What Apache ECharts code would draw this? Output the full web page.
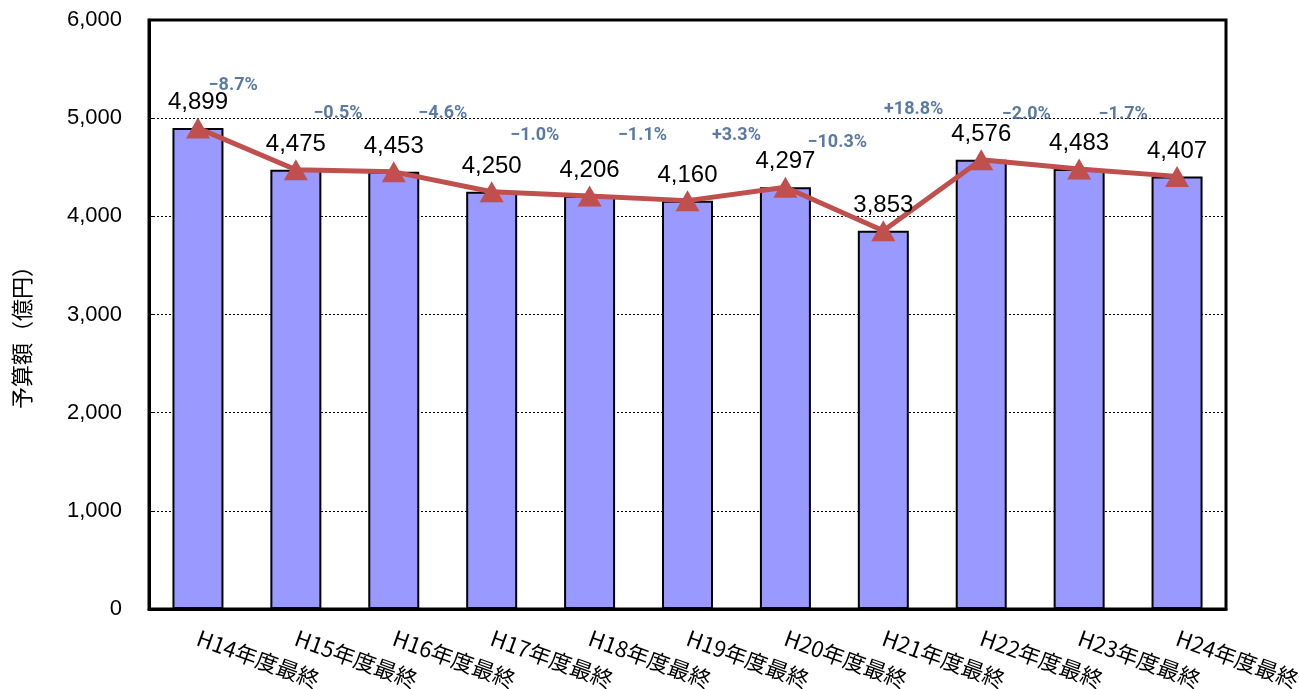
<!DOCTYPE html>
<html lang="ja">

<head>
  <meta charset="UTF-8">
  <title>予算額の推移</title>
  <script src="https://cdn.jsdelivr.net/npm/echarts@6/dist/echarts.min.js"></script>
  <style>
    html, body {
      margin: 0;
      background: #fff;
    }

    #chart {
      width: 1299px;
      height: 689px;
    }
  </style>
</head>

<body>
  <div id="chart"></div>

  <script>
    // data
    const categories = ['H14年度最終', 'H15年度最終', 'H16年度最終', 'H17年度最終', 'H18年度最終', 'H19年度最終',
      'H20年度最終', 'H21年度最終', 'H22年度最終', 'H23年度最終', 'H24年度最終']
    const budget = [4899, 4475, 4453, 4250, 4206, 4160, 4297, 3853, 4576, 4483, 4407]
    const changes = ['−8.7%', '−0.5%', '−4.6%', '−1.0%', '−1.1%', '+3.3%', '−10.3%', '+18.8%', '−2.0%', '−1.7%']
    const yTicks = [0, 1000, 2000, 3000, 4000, 5000, 6000]

    // where the change labels sit (category units across, axis units up)
    const changeX = [0.86, 1.93, 3.0, 3.94, 5.04, 6.0, 7.03, 7.81, 8.96, 9.95]
    const changeY = [5330, 5050, 5050, 4820, 4820, 4820, 4750, 5090, 5040, 5040]

    const fmt = v => Number(v).toLocaleString('en-US')

    const myChart = echarts.init(document.getElementById('chart'))
    const option = {
      animation: false,
      grid: {
        left: 149,
        right: 73,
        top: 20,
        bottom: 80,
        containLabel: false,
        outerBoundsMode: 'none',
        show: true,
        borderColor: '#000',
        borderWidth: 3
      },
      xAxis: [{
        type: 'category',
        data: categories,
        axisLine: { lineStyle: { color: '#000', width: 3 } },
        axisTick: { inside: true, length: 5, lineStyle: { color: '#000' } },
        axisLabel: {
          rotate: -20,
          margin: 28,
          color: '#000',
          fontSize: 22,
          fontFamily: '"Noto Sans CJK JP", sans-serif'
        }
      }, {
        type: 'value',
        min: 0,
        max: categories.length,
        show: false
      }],
      yAxis: {
        type: 'value',
        min: yTicks[0],
        max: yTicks[yTicks.length - 1],
        interval: 1000,
        axisLine: { show: true, lineStyle: { color: '#000', width: 3 } },
        axisTick: { show: true, inside: true, length: 5, lineStyle: { color: '#000' } },
        axisLabel: {
          margin: 27,
          color: '#000',
          fontSize: 22,
          fontFamily: '"Liberation Sans", Arial, sans-serif',
          formatter: fmt
        },
        splitLine: { lineStyle: { color: '#000', type: [2, 2], width: 1 } }
      },
      graphic: [{
        type: 'text',
        x: 22,
        y: 332,
        rotation: Math.PI / 2,
        style: {
          text: '予算額（億円）',
          fill: '#000',
          font: '22px "Noto Sans CJK JP", sans-serif',
          textAlign: 'center',
          textVerticalAlign: 'middle'
        }
      }],
      series: [{
        type: 'bar',
        data: budget,
        barWidth: 51,
        itemStyle: { color: '#9999FF', borderColor: '#000', borderWidth: 2 }
      }, {
        type: 'line',
        data: budget,
        symbol: 'triangle',
        symbolSize: [24, 21],
        lineStyle: { color: '#C0504D', width: 5 },
        itemStyle: { color: '#C0504D' },
        label: {
          show: true,
          position: 'top',
          distance: 3,
          color: '#000',
          fontSize: 24,
          fontFamily: '"Liberation Sans", Arial, sans-serif',
          formatter: p => fmt(p.value)
        },
        z: 3
      }, {
        type: 'scatter',
        xAxisIndex: 1,
        data: changes.map((t, i) => [changeX[i], changeY[i], t]),
        symbolSize: 0,
        label: {
          show: true,
          position: 'inside',
          color: '#31598C',
          fontSize: 18,
          fontWeight: 'bold',
          fontFamily: 'Roboto, "DejaVu Sans", sans-serif',
          formatter: p => p.value[2]
        },
        z: 4
      }]
    }
    myChart.setOption(option)
  </script>
</body>

</html>
